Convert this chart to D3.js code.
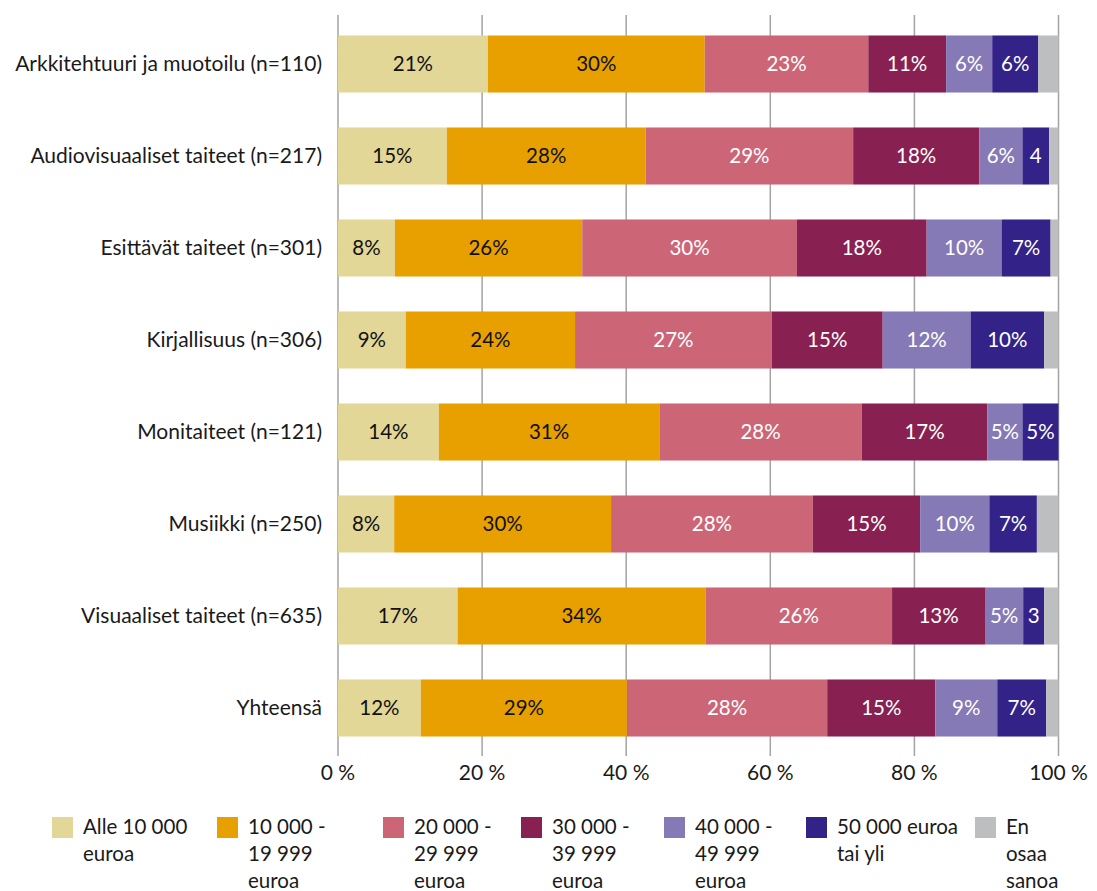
<!DOCTYPE html>
<html>
<head>
<meta charset="utf-8">
<script src="https://cdn.jsdelivr.net/npm/d3@7"></script>
<style>
  body { margin: 0; background: #fff; }
  text { font-family: Lato, "Open Sans", sans-serif; }
</style>
</head>
<body>
<div id="chart"></div>
<script>
// rivit (taiteenalat)
const categories = [
  "Arkkitehtuuri ja muotoilu (n=110)",
  "Audiovisuaaliset taiteet (n=217)",
  "Esittävät taiteet (n=301)",
  "Kirjallisuus (n=306)",
  "Monitaiteet (n=121)",
  "Musiikki (n=250)",
  "Visuaaliset taiteet (n=635)",
  "Yhteensä"
];

// tuloluokat
const seriesNames = ["Alle 10 000 euroa", "10 000 - 19 999 euroa", "20 000 - 29 999 euroa",
  "30 000 - 39 999 euroa", "40 000 - 49 999 euroa", "50 000 euroa tai yli", "En osaa sanoa"];
const legendLines = [
  ["Alle 10 000", "euroa"],
  ["10 000 -", "19 999", "euroa"],
  ["20 000 -", "29 999", "euroa"],
  ["30 000 -", "39 999", "euroa"],
  ["40 000 -", "49 999", "euroa"],
  ["50 000 euroa", "tai yli"],
  ["En", "osaa", "sanoa"]
];
const colors = ["#e3d797", "#e89f00", "#cc6677", "#882152", "#8579b6", "#332288", "#bdbebf"];

// osuudet (%) sarjoittain, rivien järjestyksessä
const alle10 = [20.8, 15.1, 7.9, 9.4, 14.0, 7.8, 16.6, 11.5];
const s10_20 = [30.1, 27.6, 26.0, 23.5, 30.6, 30.1, 34.4, 28.6];
const s20_30 = [22.7, 28.8, 29.8, 27.3, 28.1, 28.0, 25.9, 27.8];
const s30_40 = [10.8, 17.5, 18.0, 15.4, 17.4, 14.9, 12.9, 15.0];
const s40_50 = [6.4, 6.0, 10.4, 12.2, 4.9, 9.6, 5.3, 8.6];
const yli50 = [6.4, 3.7, 6.8, 10.2, 5.0, 6.6, 2.9, 6.8];
const enOsaa = [2.8, 1.3, 1.1, 2.0, 0.0, 3.0, 2.0, 1.7];

const xTicks = [0, 20, 40, 60, 80, 100];

const seriesValues = [alle10, s10_20, s20_30, s30_40, s40_50, yli50, enOsaa];
const rows = categories.map((c, i) => {
  const r = { cat: c };
  seriesNames.forEach((s, j) => { r[s] = seriesValues[j][i]; });
  return r;
});

const width = 1097;
const height = 891;
const svg = d3.select("#chart").append("svg")
  .attr("width", width).attr("height", height);

const x = d3.scaleLinear().domain([0, 100]).range([338, 1058.5]);
const y = d3.scaleBand().domain(categories).range([18, 754])
  .paddingInner(0.38).paddingOuter(0.19);

// pystysuorat ruudukkoviivat
svg.append("g").selectAll("line")
  .data(xTicks)
  .join("line")
  .attr("x1", d => x(d)).attr("x2", d => x(d))
  .attr("y1", 15).attr("y2", 756)
  .attr("stroke", "#a3a3a3").attr("stroke-width", 1.5);

svg.append("g").selectAll("text")
  .data(xTicks)
  .join("text")
  .attr("x", d => x(d)).attr("y", 780)
  .attr("text-anchor", "middle")
  .attr("font-size", 21).attr("fill", "#1a1a1a")
  .text(d => d + " %");

const stacked = d3.stack().keys(seriesNames)(rows);

const layers = svg.append("g").selectAll("g")
  .data(stacked)
  .join("g")
  .attr("fill", (d, i) => colors[i]);

layers.selectAll("rect")
  .data(d => d)
  .join("rect")
  .attr("x", d => x(d[0]))
  .attr("width", d => x(d[1]) - x(d[0]))
  .attr("y", d => y(d.data.cat))
  .attr("height", y.bandwidth());

// arvotekstit (ei "En osaa sanoa")
const labels = svg.append("g");
stacked.forEach((layer, i) => {
  if (i === stacked.length - 1) return;
  layer.forEach(d => {
    const v = d[1] - d[0];
    if (v <= 0) return;
    const w = x(d[1]) - x(d[0]);
    const t = labels.append("text")
      .attr("x", (x(d[0]) + x(d[1])) / 2)
      .attr("y", y(d.data.cat) + y.bandwidth() / 2)
      .attr("dy", "0.35em")
      .attr("text-anchor", "middle")
      .attr("font-size", 20.5)
      .attr("fill", i < 2 ? "#111" : "#fff")
      .text(Math.round(v) + "%");
    if (t.node().getComputedTextLength() > w - 1) t.text(Math.round(v));
  });
});

// rivien nimet
svg.append("g").selectAll("text")
  .data(categories)
  .join("text")
  .attr("x", 322)
  .attr("y", d => y(d) + y.bandwidth() / 2)
  .attr("dy", "0.35em")
  .attr("text-anchor", "end")
  .attr("font-size", 21).attr("fill", "#1a1a1a")
  .text(d => d);

// selite
const legendX = [52, 217, 383, 521, 664, 806, 975];
const legend = svg.append("g").selectAll("g")
  .data(legendLines)
  .join("g")
  .attr("transform", (d, i) => `translate(${legendX[i]},817)`);

legend.append("rect")
  .attr("width", 21).attr("height", 21)
  .attr("fill", (d, i) => colors[i]);

legend.append("text")
  .attr("x", 31).attr("y", 17)
  .attr("font-size", 20.5).attr("fill", "#1a1a1a")
  .selectAll("tspan")
  .data(d => d)
  .join("tspan")
  .attr("x", 31)
  .attr("dy", (d, i) => i === 0 ? 0 : 27)
  .text(d => d);
</script>
</body>
</html>
